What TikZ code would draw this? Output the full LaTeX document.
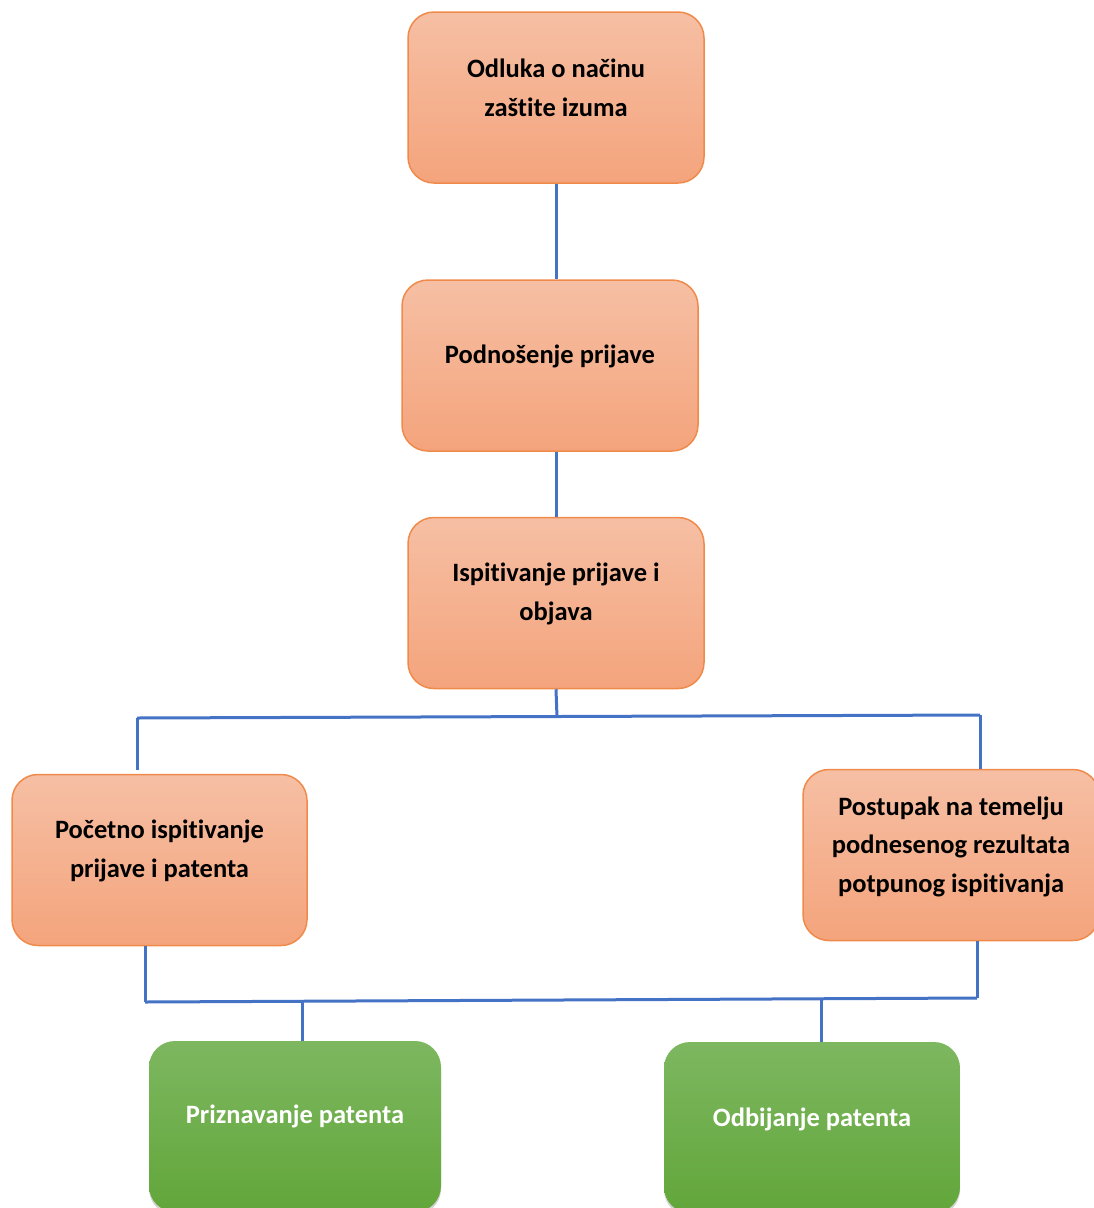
\documentclass[tikz,border=0pt]{standalone}
\usepackage{fontspec}
\setmainfont{Carlito}[Ligatures=NoCommon]
\usetikzlibrary{shadows}
\definecolor{orb}{HTML}{F08A4B}
\definecolor{ortop}{HTML}{F6BFA4}
\definecolor{orbot}{HTML}{F4A47C}
\definecolor{grtop}{HTML}{7DB760}
\definecolor{grbot}{HTML}{62A63A}
\definecolor{lnk}{HTML}{4472C4}
\begin{document}
\begin{tikzpicture}[x=1pt,y=-1pt,
  obox/.style={draw=orb,line width=1.5pt,rounded corners=26pt,top color=ortop,bottom color=orbot,minimum width=#1,minimum height=171pt,inner sep=0pt},
  gbox/.style={rounded corners=26pt,top color=grtop,bottom color=grbot,minimum width=#1,minimum height=171pt,inner sep=0pt,drop shadow={opacity=0.35,shadow xshift=0pt,shadow yshift=-3pt}},
  txt/.style={font=\fontsize{26.5}{38.5}\selectfont\bfseries,align=center,inner sep=0pt},
  wtxt/.style={txt,text=white},
  conn/.style={draw=lnk,line width=3pt}]
\useasboundingbox (0,0) rectangle (1094,1208);
\clip (0,0) rectangle (1094,1208);
% boxes
\node[obox=296pt] (b1) at (556,97.5) {};
\node[txt] (t1) at (556,88) {Odluka o načinu\\zaštite izuma};
\node[obox=296pt] (b2) at (550,365.5) {};
\node[txt] (t2) at (550,356) {Podnošenje prijave};
\node[obox=296pt] (b3) at (556,603) {};
\node[txt] (t3) at (556,594) {Ispitivanje prijave i\\objava};
\node[obox=295pt] (b4) at (159.5,860) {};
\node[txt] (t4) at (159.5,851) {Početno ispitivanje\\prijave i patenta};
\node[obox=296pt] (b5) at (951,855) {};
\node[txt] (t5) at (951,846.5) {Postupak na temelju\\podnesenog rezultata\\potpunog ispitivanja};
\node[gbox=292pt] (b6) at (295,1126.5) {};
\node[wtxt] (t6) at (295,1116) {Priznavanje patenta};
\node[gbox=296pt] (b7) at (812,1127.5) {};
\node[wtxt] (t7) at (812,1119) {Odbijanje patenta};
% connector coordinates
\coordinate (j1) at (557,717);
\coordinate (l1) at (137,718);
\coordinate (r1) at (980,715);
\coordinate (l2) at (145,1002);
\coordinate (r2) at (977,998);
\coordinate (m6) at (302,1001.5);
\coordinate (m7) at (821,999.5);
% connectors
\draw[conn] (b1.south) -- (b2.north -| b1.south);
\draw[conn] (b2.south -| 556,0) -- (b3.north);
\draw[conn] (b3.south) -- (j1);
\draw[conn] (l1) -- (r1);
\draw[conn] (l1) -- (137,770);
\draw[conn] (r1) -- (980,769);
\draw[conn] (b4.south -| l2) -- (l2);
\draw[conn] (l2) -- (r2);
\draw[conn] (b5.south -| r2) -- (r2);
\draw[conn] (m6) -- (b6.north -| m6);
\draw[conn] (m7) -- (b7.north -| m7);
\end{tikzpicture}
\end{document}
